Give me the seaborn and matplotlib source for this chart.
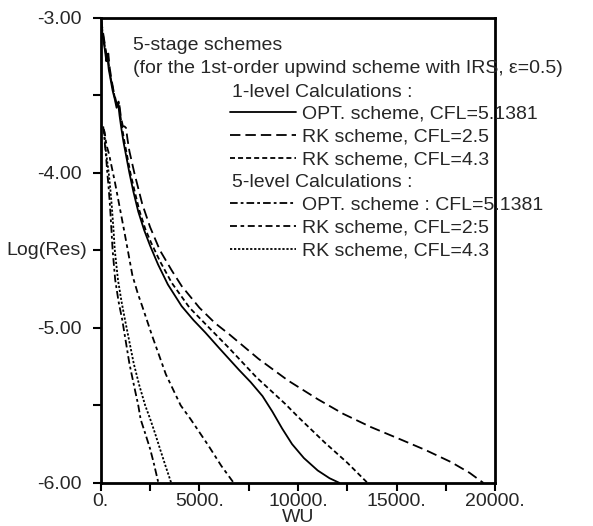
import matplotlib
matplotlib.use("Agg")
import matplotlib.pyplot as plt
import seaborn as sns
import pandas as pd
from matplotlib.lines import Line2D

# ---- data ----
opt1_x = [0, 100, 200, 280, 330, 400, 500, 600, 700, 800, 880, 950, 1050, 1150, 1300, 1450, 1650, 1900, 2200, 2500,
          2900, 3400, 4100, 4700, 5300, 6000, 7000, 7600, 8200, 8700, 9200, 9700, 10300, 11000, 11600, 12100]
opt1_y = [-3.0, -3.12, -3.2, -3.28, -3.24, -3.33, -3.40, -3.47, -3.52, -3.58, -3.55, -3.63, -3.72, -3.80, -3.90, -4.0,
          -4.12, -4.25, -4.37, -4.47, -4.59, -4.72, -4.86, -4.95, -5.03, -5.13, -5.27, -5.35, -5.44, -5.54, -5.65, -5.75,
          -5.84, -5.92, -5.97, -6.0]

rk25_1_x = [0, 120, 240, 330, 380, 460, 560, 660, 760, 860, 940, 1020, 1120, 1200, 1280, 1350, 1450, 1700, 2100, 2500,
            3000, 3600, 4100, 5000, 5800, 6500, 8000, 9500, 11000, 12300, 13700, 15300, 16500, 17750, 18700, 19400]
rk25_1_y = [-3.0, -3.1, -3.2, -3.27, -3.23, -3.33, -3.41, -3.48, -3.53, -3.58, -3.56, -3.64, -3.70, -3.70, -3.71, -3.78,
            -3.86, -4.0, -4.2, -4.35, -4.5, -4.63, -4.73, -4.87, -4.97, -5.04, -5.2, -5.34, -5.46, -5.555, -5.64, -5.725,
            -5.79, -5.865, -5.935, -6.0]

rk43_1_x = [0, 100, 200, 290, 340, 420, 520, 620, 720, 820, 900, 980, 1080, 1200, 1350, 1500, 1700, 1950, 2250, 2550,
            3000, 3600, 4500, 5500, 6500, 7900, 9350, 10050, 11360, 12500, 13525]
rk43_1_y = [-3.0, -3.1, -3.18, -3.26, -3.22, -3.32, -3.40, -3.46, -3.52, -3.57, -3.54, -3.62, -3.71, -3.80, -3.90, -4.0,
            -4.11, -4.24, -4.36, -4.45, -4.57, -4.71, -4.87, -5.0, -5.13, -5.32, -5.49, -5.58, -5.74, -5.87, -6.0]

opt5_x = [120, 160, 210, 270, 330, 400, 470, 540, 600, 730, 900, 1090, 1270, 1450, 1680, 1900, 2020, 2250, 2500, 2700, 2920]
opt5_y = [-3.70, -3.74, -3.82, -3.9, -4.0, -4.1, -4.22, -4.37, -4.5, -4.69, -4.83, -4.95, -5.09, -5.23, -5.37, -5.5,
          -5.59, -5.68, -5.78, -5.88, -6.0]

rk25_5_x = [150, 200, 260, 330, 420, 550, 700, 850, 1000, 1180, 1370, 1600, 1880, 2100, 2600, 3300, 4050, 4560, 5460,
            6110, 6740]
rk25_5_y = [-3.72, -3.74, -3.80, -3.84, -3.88, -3.96, -4.05, -4.15, -4.25, -4.37, -4.5, -4.66, -4.78, -4.86, -5.05, -5.3,
            -5.5, -5.59, -5.76, -5.89, -6.0]

rk43_5_x = [150, 190, 250, 320, 400, 480, 560, 640, 710, 870, 1050, 1230, 1450, 1670, 1950, 2250, 2510, 2750, 3000,
            3280, 3570]
rk43_5_y = [-3.72, -3.76, -3.85, -3.92, -4.0, -4.1, -4.22, -4.36, -4.5, -4.69, -4.83, -4.95, -5.09, -5.23, -5.37, -5.5,
            -5.59, -5.68, -5.78, -5.89, -6.0]

labels_1 = ["OPT. scheme, CFL=5.1381", "RK scheme, CFL=2.5", "RK scheme, CFL=4.3"]
labels_5 = ["OPT. scheme : CFL=5.1381", "RK scheme, CFL=2:5", "RK scheme, CFL=4.3"]
xticks = [0, 5000, 10000, 15000, 20000]
xtick_labels = ["0.", "5000.", "10000.", "15000.", "20000."]
yticks = [-6.0, -5.0, -4.0, -3.0]
ytick_labels = ["-6.00", "-5.00", "-4.00", "-3.00"]

# ---- style ----
sns.set_style("ticks")
plt.rcParams["font.family"] = ["Liberation Sans", "DejaVu Sans"]
plt.rcParams["lines.scale_dashes"] = False
FS = 14

styles_1 = ["-", (0, (7.5, 3.6)), (0, (3.6, 2.2))]
styles_5 = [(0, (5.5, 2.2, 2.0, 2.2)), (0, (5.0, 2.6, 2.6, 2.6)), (0, (1.6, 1.3))]

fig = plt.figure(figsize=(5.93, 5.26), dpi=100)
ax = fig.add_axes([0.170, 0.082, 0.665, 0.884])

series = [
    (opt1_x, opt1_y, styles_1[0]),
    (rk25_1_x, rk25_1_y, styles_1[1]),
    (rk43_1_x, rk43_1_y, styles_1[2]),
    (opt5_x, opt5_y, styles_5[0]),
    (rk25_5_x, rk25_5_y, styles_5[1]),
    (rk43_5_x, rk43_5_y, styles_5[2]),
]
for xs, ys, ls in series:
    df = pd.DataFrame({"WU": xs, "res": ys})
    sns.lineplot(data=df, x="WU", y="res", ax=ax, color="black", lw=1.3,
                 linestyle=ls, estimator=None, sort=False)

ax.set_xlim(0, 20000)
ax.set_ylim(-6.0, -3.0)
ax.set_xticks(xticks)
ax.set_xticklabels(xtick_labels, fontsize=FS)
ax.set_xticks([2500, 7500, 12500, 17500], minor=True)
ax.set_yticks(yticks)
ax.set_yticklabels(ytick_labels, fontsize=FS)
ax.set_yticks([-5.5, -4.5, -3.5], minor=True)
ax.tick_params(which="both", direction="out", length=6, width=1.5, color="black")
ax.tick_params(axis="x", which="both", pad=1.5)
ax.tick_params(axis="y", which="both", pad=8)
for s in ax.spines.values():
    s.set_linewidth(2.0)
    s.set_color("black")
    s.set_visible(True)

ax.set_xlabel("WU", fontsize=FS, labelpad=-1)
ax.set_ylabel("Log(Res)", fontsize=FS, rotation=0, ha="right", va="center")
ax.yaxis.set_label_coords(-0.034, 0.5)

# ---- annotation block ----
ax.text(0.081, 0.941, "5-stage schemes", transform=ax.transAxes, fontsize=FS, va="center", ha="left")
ax.text(0.081, 0.892, "(for the 1st-order upwind scheme with IRS, \u03b5=0.5)", transform=ax.transAxes,
        fontsize=FS, va="center", ha="left", clip_on=False)
ax.text(0.333, 0.840, "1-level Calculations :", transform=ax.transAxes, fontsize=FS, va="center", ha="left")
ax.text(0.333, 0.646, "5-level Calculations :", transform=ax.transAxes, fontsize=FS, va="center", ha="left")

h1 = [Line2D([], [], color="black", lw=1.3, linestyle=s) for s in styles_1]
h5 = [Line2D([], [], color="black", lw=1.3, linestyle=s) for s in styles_5]
leg_kw = dict(frameon=False, fontsize=FS, handlelength=3.4, handletextpad=0.3, labelspacing=0.27,
              borderpad=0, borderaxespad=0, loc="upper left")
leg1 = ax.legend(h1, labels_1, bbox_to_anchor=(0.328, 0.812), **leg_kw)
ax.add_artist(leg1)
ax.legend(h5, labels_5, bbox_to_anchor=(0.328, 0.616), **leg_kw)

fig.savefig("out.png", dpi=100)
